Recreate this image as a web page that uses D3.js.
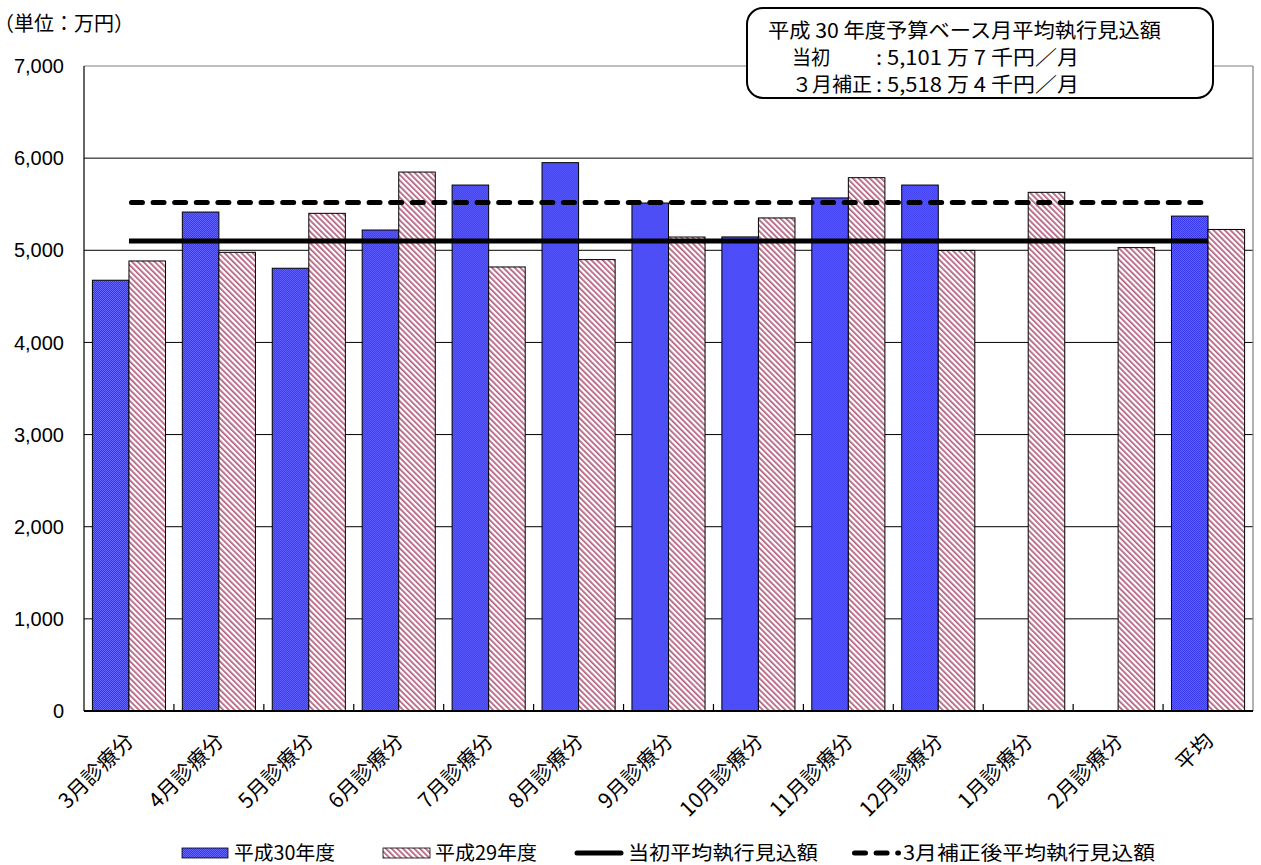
<!DOCTYPE html>
<html><head><meta charset="utf-8">
<script src="https://cdn.jsdelivr.net/npm/d3@7"></script>
<style>body{margin:0;background:#fff} svg{display:block}</style>
</head><body>
<script>
const categories = ["3月診療分","4月診療分","5月診療分","6月診療分","7月診療分","8月診療分","9月診療分","10月診療分","11月診療分","12月診療分","1月診療分","2月診療分","平均"];
const seriesNames = ["平成30年度","平成29年度"];
const valuesH30 = [4675,5415,4805,5220,5708,5951,5513,5145,5568,5708,null,null,5371];
const valuesH29 = [4884,4978,5401,5849,4819,4899,5144,5351,5788,4998,5629,5029,5226];
const initialAvg = 5101.7;
const revisedAvg = 5518.4;
const yTicks = [0,1000,2000,3000,4000,5000,6000,7000];
const legendLabels = ["平成30年度","平成29年度","当初平均執行見込額","3月補正後平均執行見込額"];
const unitLabel = "（単位：万円）";
const boxTitle = "平成 30 年度予算ベース月平均執行見込額";
const boxRowLabels = ["当初", "３月補正"];
const boxRowValues = [": 5,101 万 7 千円／月", ": 5,518 万 4 千円／月"];

const W = 1261, H = 865;
const L = 84, R = 1253, T = 66, B = 711;
const jp = "'Noto Sans CJK JP','Noto Sans',sans-serif";
const num = "'Liberation Sans',Arial,sans-serif";

const svg = d3.select("body").append("svg").attr("width", W).attr("height", H);
const defs = svg.append("defs");
const pb = defs.append("pattern").attr("id","pBlue").attr("patternUnits","userSpaceOnUse").attr("width",2).attr("height",2);
pb.append("rect").attr("width",2).attr("height",2).attr("fill","#3636f0");
pb.append("rect").attr("x",0).attr("y",0).attr("width",1).attr("height",1).attr("fill","#6464ff");
pb.append("rect").attr("x",1).attr("y",1).attr("width",1).attr("height",1).attr("fill","#6464ff");
const pp = defs.append("pattern").attr("id","pPink").attr("patternUnits","userSpaceOnUse").attr("width",4).attr("height",4).attr("patternTransform","rotate(-45)");
pp.append("rect").attr("width",4).attr("height",4).attr("fill","#fff");
pp.append("rect").attr("x",0).attr("y",0).attr("width",1.7).attr("height",4).attr("fill","#b45c7c");

const x = d3.scaleBand().domain(categories).range([L, R]).paddingInner(0).paddingOuter(0);
const x1 = d3.scaleBand().domain(seriesNames).range([0, x.bandwidth()]).paddingInner(0).paddingOuter(0.23);
const y = d3.scaleLinear().domain([0, 7000]).range([B, T]);

// gridlines
svg.append("g").selectAll("line").data(yTicks.filter(d => d > 0 && d < 7000)).join("line")
  .attr("x1", L).attr("x2", R).attr("y1", d => y(d)).attr("y2", d => y(d))
  .attr("stroke", "#000").attr("stroke-width", 1);
// frame top & right
svg.append("line").attr("x1", L).attr("x2", R).attr("y1", y(7000)).attr("y2", y(7000)).attr("stroke","#808080").attr("stroke-width",1.2);
svg.append("line").attr("x1", R).attr("x2", R).attr("y1", T).attr("y2", B).attr("stroke","#808080").attr("stroke-width",1.2);

// bars
const fills = ["url(#pBlue)", "url(#pPink)"];
const data = categories.map((c, i) => ({c, vals: [valuesH30[i], valuesH29[i]]}));
const grp = svg.append("g").selectAll("g").data(data).join("g").attr("transform", d => `translate(${x(d.c)},0)`);
grp.selectAll("rect").data(d => d.vals.map((v, k) => ({v, k})).filter(e => e.v != null)).join("rect")
  .attr("x", e => x1(seriesNames[e.k])).attr("width", x1.bandwidth())
  .attr("y", e => y(e.v)).attr("height", e => y(0) - y(e.v))
  .attr("fill", e => fills[e.k]).attr("stroke", "#000").attr("stroke-width", 1);

// axes
svg.append("line").attr("x1", L).attr("x2", L).attr("y1", T).attr("y2", B).attr("stroke","#000").attr("stroke-width",1.2);
svg.append("line").attr("x1", L).attr("x2", R).attr("y1", B).attr("y2", B).attr("stroke","#000").attr("stroke-width",2);
svg.append("g").selectAll("line").data(categories.slice(1)).join("line")
  .attr("x1", d => x(d)).attr("x2", d => x(d)).attr("y1", B).attr("y2", B - 7)
  .attr("stroke","#000").attr("stroke-width",1.2);
svg.append("g").selectAll("text").data(yTicks).join("text")
  .attr("x", 64).attr("y", d => y(d)).attr("dy", "0.36em").attr("text-anchor","end")
  .attr("font-family", num).attr("font-size", 20).attr("fill","#000")
  .text(d => d3.format(",")(d));

// x labels
svg.append("g").selectAll("text").data(categories).join("text")
  .attr("transform", d => `translate(${x(d) + x.bandwidth()/2 + 1},${B + 26}) rotate(-45)`)
  .attr("text-anchor","end").attr("dy","0.35em")
  .attr("font-family", jp).attr("font-size", 21).attr("fill","#000")
  .text(d => d);

// average lines
const xs = x(categories[0]) + x.bandwidth()/2, xe = x(categories[categories.length-1]) + x.bandwidth()/2;
svg.append("line").attr("x1", xs).attr("x2", xe).attr("y1", y(initialAvg)).attr("y2", y(initialAvg))
  .attr("stroke","#000").attr("stroke-width",5);
svg.append("line").attr("x1", xs + 2.5).attr("x2", xe - 2.5).attr("y1", y(revisedAvg)).attr("y2", y(revisedAvg))
  .attr("stroke","#000").attr("stroke-width",5).attr("stroke-dasharray","11,10.6").attr("stroke-linecap","round");

// unit label
svg.append("text").attr("x", -6).attr("y", 31).attr("font-family", jp).attr("font-size", 20).attr("fill","#000").text(unitLabel);

// info box
svg.append("rect").attr("x", 747).attr("y", 8).attr("width", 466).attr("height", 90).attr("rx", 16)
  .attr("fill","#fff").attr("stroke","#000").attr("stroke-width",2);
svg.append("text").attr("x", 768).attr("y", 38).attr("font-family", jp).attr("font-size", 20)
  .attr("textLength", 393).attr("lengthAdjust","spacingAndGlyphs").text(boxTitle);
boxRowLabels.forEach((lab, i) => {
  svg.append("text").attr("x", 792).attr("y", 65 + i*27).attr("font-family", jp).attr("font-size", 20)
    .attr("textLength", i === 0 ? 38 : 80).attr("lengthAdjust","spacingAndGlyphs").text(lab);
  svg.append("text").attr("x", 876).attr("y", 65 + i*27).attr("font-family", jp).attr("font-size", 20)
    .attr("textLength", 203).attr("lengthAdjust","spacingAndGlyphs").text(boxRowValues[i]);
});

// legend
const ly = 853;
const lg = svg.append("g");
lg.append("rect").attr("x",182).attr("y",ly-5).attr("width",46).attr("height",10).attr("fill","url(#pBlue)").attr("stroke","#000").attr("stroke-width",0.8);
lg.append("rect").attr("x",383).attr("y",ly-5).attr("width",47).attr("height",10).attr("fill","url(#pPink)").attr("stroke","#000").attr("stroke-width",0.8);
lg.append("line").attr("x1",577).attr("x2",621).attr("y1",ly).attr("y2",ly).attr("stroke","#000").attr("stroke-width",5).attr("stroke-linecap","round");
lg.append("line").attr("x1",854.5).attr("x2",898.5).attr("y1",ly).attr("y2",ly).attr("stroke","#000").attr("stroke-width",5).attr("stroke-dasharray","11,10.6").attr("stroke-linecap","round");
const legX = [234, 435, 628, 903], legW = [101, 102, 190, 252];
lg.selectAll("text").data(legendLabels).join("text")
  .attr("x", (d,i) => legX[i]).attr("y", ly + 7).attr("font-family", jp).attr("font-size", 19.5)
  .attr("textLength", (d,i) => legW[i]).attr("lengthAdjust","spacingAndGlyphs").text(d => d);
</script>
</body></html>
